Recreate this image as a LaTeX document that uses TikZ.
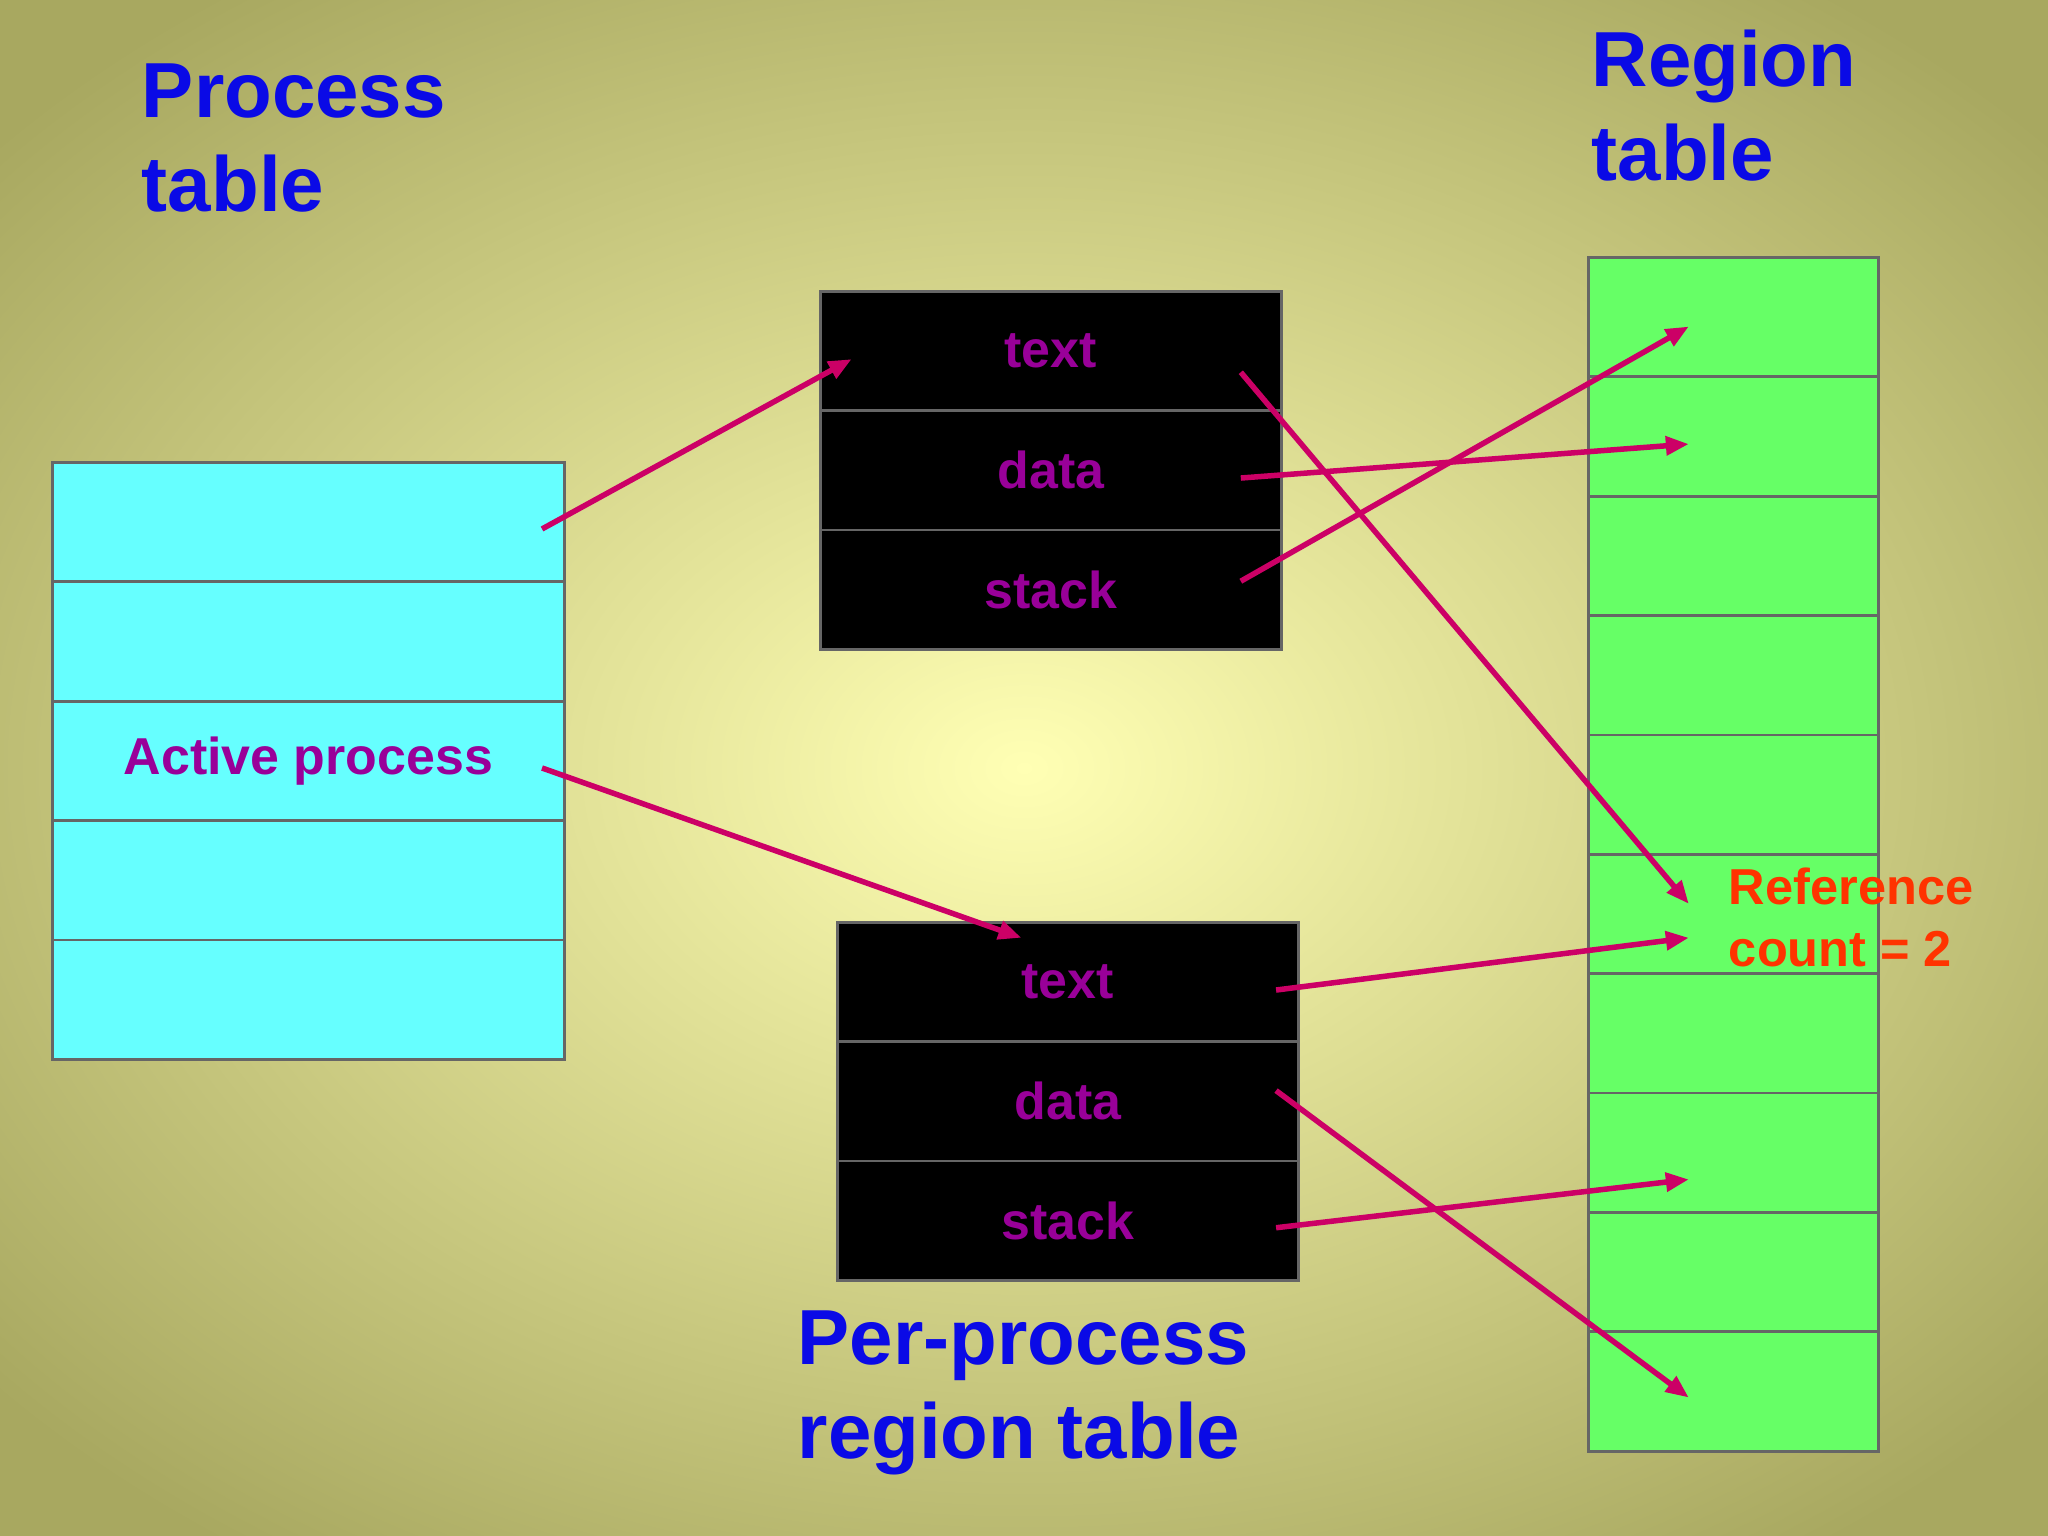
\documentclass[tikz,border=0pt]{standalone}
\usepackage{fontspec}
\setmainfont{Liberation Sans}
\usetikzlibrary{arrows.meta}
\definecolor{cyanc}{HTML}{66FFFF}
\definecolor{greenc}{HTML}{66FF66}
\definecolor{arr}{HTML}{CC0066}
\definecolor{purp}{HTML}{990099}
\definecolor{bluet}{HTML}{0A0AE6}
\definecolor{refc}{HTML}{FF3300}
\begin{document}
\begin{tikzpicture}[x=0.01cm,y=-0.01cm,
  cell/.style={draw=black!60,line width=0.6pt,minimum width=#1*0.01cm,minimum height=0.914cm,inner sep=0pt,anchor=north west},
  lbl/.style={text=purp,font=\fontsize{11.3}{14}\selectfont\bfseries},
  title/.style={text=bluet,font=\fontsize{17}{20.5}\selectfont\bfseries,align=left,anchor=north west,inner sep=0pt},
  conn/.style={draw=arr,line width=1.2pt,-{Triangle[length=5pt,width=4pt]}}]
\useasboundingbox (0,0) rectangle (1568,1176);
\shade[inner color={rgb,255:red,255;green,255;blue,180}, outer color={rgb,255:red,168;green,168;blue,96}] (-250,-150) rectangle (1818,1326);
\node[title] (pt) at (108,48) {Process\\table};
\node[title] (rt) at (1218,22) {Region\\table};
\node[title] (ppt) at (610,1003) {Per-process\\region table};
% process table
\foreach \i in {0,...,4}{\node[cell=392,fill=cyanc] (p\i) at (39,{353+91.4*\i}) {};}
\node[lbl] at (p2) {Active process};
% per-process tables
\foreach \i/\t in {0/text,1/data,2/stack}{
  \node[cell=353,fill=black,lbl] (a\i) at (627,{222+91.4*\i}) {\t};
  \node[cell=353,fill=black,lbl] (b\i) at (640,{705+91.4*\i}) {\t};}
% region table
\foreach \i in {0,...,9}{\node[cell=222,fill=greenc] (r\i) at (1215,{196+91.4*\i}) {};}
\node[text=refc,font=\fontsize{11}{13.5}\selectfont\bfseries,align=left,anchor=north west,inner sep=0pt] (ref) at (1323,664) {Reference\\count = 2};
% coordinates
\coordinate (s1) at (415,405); \coordinate (e1) at (652,275);
\coordinate (s2) at (415,588); \coordinate (e2) at (782,718);
\coordinate (s3) at (950,285); \coordinate (e3) at (1293,692);
\coordinate (s4) at (950,366); \coordinate (e4) at (1293,340);
\coordinate (s5) at (950,445); \coordinate (e5) at (1293,250);
\coordinate (s6) at (977,758); \coordinate (e6) at (1293,718);
\coordinate (s7) at (977,835); \coordinate (e7) at (1293,1070);
\coordinate (s8) at (977,940); \coordinate (e8) at (1293,903);
\foreach \k in {1,...,8}{\draw[conn] (s\k) -- (e\k);}
\end{tikzpicture}
\end{document}
